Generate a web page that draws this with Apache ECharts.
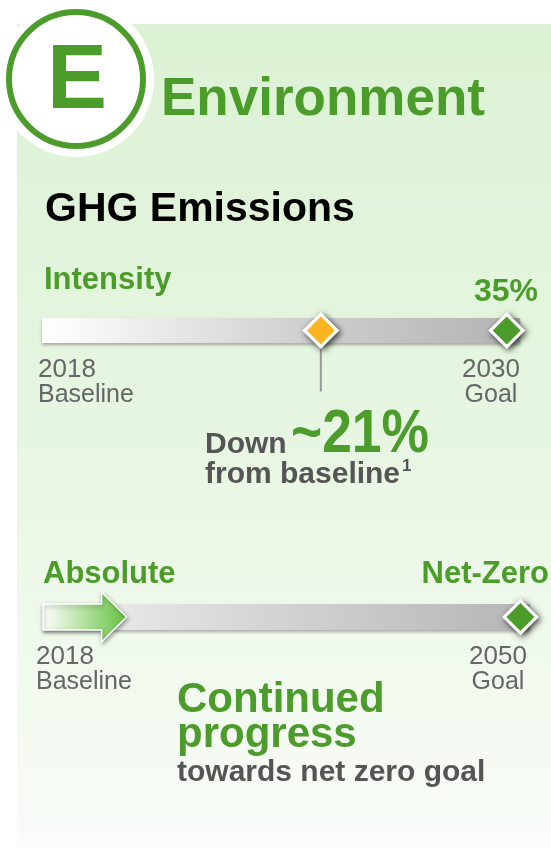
<!DOCTYPE html>
<html>
<head>
<meta charset="utf-8">
<script src="https://cdn.jsdelivr.net/npm/echarts@6/dist/echarts.min.js"></script>
<style>
  html, body { margin: 0; padding: 0; background: #fff; }
  #chart { width: 551px; height: 850px; }
</style>
</head>
<body>
<div id="chart"></div>
<script>
// intensity: % reduction vs 2018 baseline
var intensityLabels = ["2018\nBaseline", "2030\nGoal"];
var intensityCurrent = [21];
var intensityGoal = [35];
var intensityMax = 36;

// absolute: progress towards net zero (goal = 100)
var absoluteLabels = ["2018\nBaseline", "2050\nGoal"];
var absoluteProgress = [17.5];
var absoluteGoal = [100];
var absoluteMax = 102;

var green = "#4c9c2b";
var font = "'Liberation Sans', Arial, sans-serif";

var chartDom = document.getElementById("chart");
var myChart = echarts.init(chartDom, null, { renderer: "canvas" });

function txt(text, x, baseline, size, color, opts) {
  opts = opts || {};
  return {
    type: "text",
    x: x,
    y: baseline - 0.31 * size,
    z: 20,
    scaleX: opts.scaleX || 1,
    style: {
      text: text,
      fill: color,
      font: (opts.bold === false ? "" : "bold ") + size + "px " + font,
      align: opts.align || "left",
      verticalAlign: "middle"
    }
  };
}

// two stacked diamonds: white one with shadow below, coloured one on top
function diamonds(xi, values, colors) {
  var base = {
    type: "scatter",
    xAxisIndex: xi,
    yAxisIndex: xi,
    symbol: "diamond",
    silent: true
  };
  return [
    Object.assign({}, base, {
      symbolSize: 37,
      z: 5,
      itemStyle: {
        color: "#fff",
        opacity: 1,
        shadowBlur: 6,
        shadowOffsetX: 2,
        shadowOffsetY: 2,
        shadowColor: "rgba(0,0,0,0.75)"
      },
      data: values.map(function (v) { return [v, 0]; })
    }),
    Object.assign({}, base, {
      symbolSize: 28,
      z: 6,
      data: values.map(function (v, i) {
        return { value: [v, 0], itemStyle: { color: colors[i], opacity: 1 } };
      })
    })
  ];
}

var option = {
  animation: false,
  graphic: [
    {
      type: "rect",
      z: 0,
      shape: { x: 17, y: 24, width: 534, height: 824 },
      style: {
        fill: new echarts.graphic.LinearGradient(0, 0, 0, 1, [
          { offset: 0, color: "#dcf2d4" },
          { offset: 0.5, color: "#e7f6e2" },
          { offset: 1, color: "#f9fcf8" }
        ])
      }
    },
    { type: "circle", z: 1, shape: { cx: 76, cy: 79, r: 78 }, style: { fill: "#fff" } },
    {
      type: "circle",
      z: 2,
      shape: { cx: 76, cy: 79, r: 67 },
      style: { fill: "#fff", stroke: green, lineWidth: 6 }
    },
    txt("E", 77, 111, 90, green, { align: "center" }),
    txt("Environment", 161, 117, 53, green),
    txt("GHG Emissions", 45, 222, 41, "#000"),
    txt("Intensity", 44, 290, 31, green),
    txt("35%", 538, 302, 32, green, { align: "right" }),
    txt("2018", 38, 378, 26, "#666", { bold: false }),
    txt("Baseline", 38, 403, 25, "#666", { bold: false }),
    txt("2030", 491, 378, 26, "#666", { bold: false, align: "center" }),
    txt("Goal", 491, 403, 25, "#666", { bold: false, align: "center" }),
    txt("Down", 205, 454, 30, "#555"),
    txt("~21%", 291, 454, 62, green, { scaleX: 0.86 }),
    txt("from baseline", 205, 484, 30, "#555"),
    txt("1", 402, 472, 17, "#555"),
    txt("Absolute", 43, 584, 31, green),
    txt("Net-Zero", 549, 584, 31, green, { align: "right" }),
    txt("2018", 36, 665, 26, "#666", { bold: false }),
    txt("Baseline", 36, 690, 25, "#666", { bold: false }),
    txt("2050", 498, 665, 26, "#666", { bold: false, align: "center" }),
    txt("Goal", 498, 690, 25, "#666", { bold: false, align: "center" }),
    txt("Continued", 177, 713, 42, green),
    txt("progress", 177, 748, 42, green),
    txt("towards net zero goal", 177, 782, 30, "#555")
  ],
  grid: [
    { left: 42, width: 478, top: 318, height: 25 },
    { left: 43, width: 487, top: 604, height: 26 }
  ],
  xAxis: [
    { gridIndex: 0, type: "value", min: 0, max: intensityMax, show: false },
    { gridIndex: 1, type: "value", min: 0, max: absoluteMax, show: false }
  ],
  yAxis: [
    { gridIndex: 0, type: "category", data: ["Intensity"], show: false },
    { gridIndex: 1, type: "category", data: ["Absolute"], show: false }
  ],
  series: [
    {
      type: "bar",
      xAxisIndex: 0,
      yAxisIndex: 0,
      data: [intensityMax],
      barWidth: 25,
      itemStyle: {
        color: new echarts.graphic.LinearGradient(0, 0, 1, 0, [
          { offset: 0, color: "#ffffff" },
          { offset: 0.55, color: "#cfcfcf" },
          { offset: 1, color: "#b3b3b3" }
        ]),
        shadowBlur: 3,
        shadowOffsetY: 2,
        shadowColor: "rgba(0,0,0,0.3)"
      }
    },
    {
      type: "custom",
      xAxisIndex: 0,
      yAxisIndex: 0,
      data: intensityCurrent.map(function (v) { return [v, 0]; }),
      z: 3,
      renderItem: function (params, api) {
        var p = api.coord([api.value(0), 0]);
        return {
          type: "line",
          shape: { x1: p[0], y1: p[1] + 12, x2: p[0], y2: p[1] + 61 },
          style: { stroke: "#9a9a9a", lineWidth: 2 }
        };
      }
    }
  ]
    .concat(diamonds(0, intensityCurrent.concat(intensityGoal), ["#fbb520", green]))
    .concat([
      {
        type: "bar",
        xAxisIndex: 1,
        yAxisIndex: 1,
        data: [absoluteMax],
        barWidth: 26,
        itemStyle: {
          color: new echarts.graphic.LinearGradient(0, 0, 1, 0, [
            { offset: 0, color: "#f0f0f0" },
            { offset: 0.5, color: "#d2d2d2" },
            { offset: 1, color: "#b5b5b5" }
          ]),
          shadowBlur: 3,
          shadowOffsetY: 2,
          shadowColor: "rgba(0,0,0,0.3)"
        }
      },
      {
        type: "custom",
        xAxisIndex: 1,
        yAxisIndex: 1,
        z: 4,
        data: absoluteProgress.map(function (v) { return [v, 0]; }),
        renderItem: function (params, api) {
          var s = api.coord([0, 0]);
          var t = api.coord([api.value(0), 0]);
          var cy = s[1];
          var h = 13;
          var hh = 25;
          var hl = 25;
          var bx = t[0] - hl;
          return {
            type: "polygon",
            shape: {
              points: [
                [s[0], cy - h], [bx, cy - h], [bx, cy - hh], [t[0], cy],
                [bx, cy + hh], [bx, cy + h], [s[0], cy + h]
              ]
            },
            style: {
              fill: new echarts.graphic.LinearGradient(0, 0, 1, 0, [
                { offset: 0, color: "#ffffff" },
                { offset: 1, color: "#64c13f" }
              ]),
              stroke: "#fff",
              lineWidth: 1.5,
              shadowBlur: 4,
              shadowOffsetX: 1,
              shadowOffsetY: 2,
              shadowColor: "rgba(0,0,0,0.35)"
            }
          };
        }
      }
    ])
    .concat(diamonds(1, absoluteGoal, [green]))
};

option && myChart.setOption(option);
</script>
</body>
</html>
